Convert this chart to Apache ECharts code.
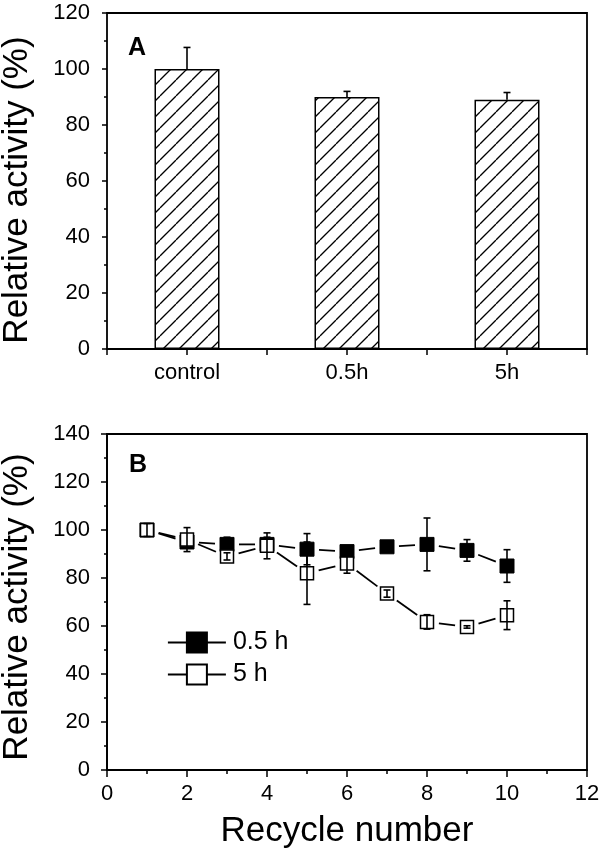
<!DOCTYPE html>
<html>
<head>
<meta charset="utf-8">
<script src="https://cdn.jsdelivr.net/npm/echarts@6/dist/echarts.min.js"></script>
<style>
html,body{margin:0;padding:0;background:#fff;}
#chart{width:600px;height:854px;}
</style>
</head>
<body>
<div id="chart"></div>
<script>
// Panel A data
const categories = ['control', '0.5h', '5h'];
const activityA = [100, 90, 89];
const errorA = [7.7, 2.0, 2.6];

// Panel B data
const recycle = [1, 2, 3, 4, 5, 6, 7, 8, 9, 10];
const act05 = [100, 95, 94, 94, 92, 91, 93, 94, 91.5, 85];
const err05 = [1.5, 2, 3, 3, 6.5, 2, 1.5, 11, 4.5, 6.8];
const act5 = [100, 96, 89, 93.4, 82, 86, 73.5, 61.7, 59.6, 64.5];
const err5 = [2.7, 5, 1.5, 5.4, 13, 4, 1.5, 3, 0.5, 6];
const seriesNames = ['0.5 h', '5 h'];

const FONT = '"Liberation Sans", Arial, sans-serif';

// hatch pattern
function hatch() {
  const s = 16;
  const c = document.createElement('canvas');
  c.width = s; c.height = s;
  const g = c.getContext('2d');
  g.fillStyle = '#fff';
  g.fillRect(0, 0, s, s);
  g.strokeStyle = '#000';
  g.lineWidth = 1.3;
  for (const k of [-s, 0, s]) {
    g.beginPath();
    g.moveTo(k, s);
    g.lineTo(k + s, 0);
    g.stroke();
  }
  return c;
}

function errRender(upOnly) {
  return function (params, api) {
    const x = api.value(0), y = api.value(1), e = api.value(2);
    const hi = api.coord([x, y + e]);
    const lo = api.coord([x, upOnly ? y : y - e]);
    const w = 3.5;
    const st = { stroke: '#000', lineWidth: 1.6 };
    const children = [
      { type: 'line', shape: { x1: hi[0], y1: hi[1], x2: lo[0], y2: lo[1] }, style: st },
      { type: 'line', shape: { x1: hi[0] - w, y1: hi[1], x2: hi[0] + w, y2: hi[1] }, style: st }
    ];
    if (!upOnly) {
      children.push({ type: 'line', shape: { x1: lo[0] - w, y1: lo[1], x2: lo[0] + w, y2: lo[1] }, style: st });
    }
    return { type: 'group', children: children };
  };
}

// connecting segments with a gap around the symbols
function segRender(params, api) {
  const x1 = api.value(0), y1 = api.value(1), x2 = api.value(2), y2 = api.value(3);
  if (x2 == null || isNaN(x2)) return { type: 'group', children: [] };
  const p1 = api.coord([x1, y1]), p2 = api.coord([x2, y2]);
  const dx = p2[0] - p1[0], dy = p2[1] - p1[1];
  const len = Math.sqrt(dx * dx + dy * dy);
  const gap = 12;
  if (len <= 2 * gap) return { type: 'group', children: [] };
  const ux = dx / len, uy = dy / len;
  return {
    type: 'line',
    shape: { x1: p1[0] + ux * gap, y1: p1[1] + uy * gap, x2: p2[0] - ux * gap, y2: p2[1] - uy * gap },
    style: { stroke: '#000', lineWidth: 1.8 }
  };
}

function segData(xs, ys) {
  return xs.map((x, i) => [x, ys[i], i + 1 < xs.length ? xs[i + 1] : NaN, i + 1 < ys.length ? ys[i + 1] : NaN]);
}

const axisLineStyle = { lineStyle: { color: '#000', width: 1.8 } };
const labelStyle = { color: '#000', fontSize: 22, fontFamily: FONT };

const chart = echarts.init(document.getElementById('chart'), null, { renderer: 'canvas' });
const option = {
  backgroundColor: '#fff',
  animation: false,
  title: [
    { text: 'A', left: 128, top: 36, padding: 0, textStyle: { fontSize: 25, fontWeight: 'bold', fontFamily: FONT, color: '#000' } },
    { text: 'B', left: 129, top: 453, padding: 0, textStyle: { fontSize: 25, fontWeight: 'bold', fontFamily: FONT, color: '#000' } }
  ],
  grid: [
    { left: 107, right: 13, top: 13, height: 336, show: true, borderColor: '#000', borderWidth: 1.8, backgroundColor: 'transparent', containLabel: false, outerBoundsMode: 'none' },
    { left: 107, right: 13, top: 434, height: 336, show: true, borderColor: '#000', borderWidth: 1.8, backgroundColor: 'transparent', containLabel: false, outerBoundsMode: 'none' }
  ],
  legend: {
    orient: 'vertical',
    left: 167,
    top: 630,
    padding: 0,
    itemWidth: 58,
    itemHeight: 25,
    itemGap: 7,
    data: seriesNames,
    lineStyle: { color: '#000', width: 1.8, opacity: 1 },
    textStyle: { color: '#000', fontSize: 25, fontFamily: FONT, padding: [0, 0, 0, 2] }
  },
  xAxis: [
    {
      type: 'category', gridIndex: 0, data: categories, boundaryGap: true,
      axisLine: axisLineStyle,
      axisTick: { show: true, inside: false, length: 6, lineStyle: { color: '#000', width: 1.5 } },
      axisLabel: Object.assign({ margin: 13 }, labelStyle),
      splitLine: { show: false }
    },
    {
      type: 'category', gridIndex: 0, data: categories, position: 'bottom',
      axisLine: { show: false },
      axisTick: { show: true, alignWithLabel: true, length: 6, lineStyle: { color: '#000', width: 1.5 } },
      axisLabel: { show: false },
      splitLine: { show: false }
    },
    {
      type: 'value', gridIndex: 1, min: 0, max: 12, interval: 2,
      name: 'Recycle number', nameLocation: 'middle', nameGap: 44,
      nameTextStyle: { color: '#000', fontSize: 35, fontFamily: FONT },
      axisLine: axisLineStyle,
      axisTick: { show: true, length: 7, lineStyle: { color: '#000', width: 1.5 } },
      minorTick: { show: true, splitNumber: 2, length: 4, lineStyle: { color: '#000', width: 1.5 } },
      axisLabel: Object.assign({ margin: 13 }, labelStyle),
      splitLine: { show: false }
    }
  ],
  yAxis: [
    {
      type: 'value', gridIndex: 0, min: 0, max: 120, interval: 20,
      name: 'Relative activity (%)', nameLocation: 'middle', nameGap: 72,
      nameTextStyle: { color: '#000', fontSize: 35, fontFamily: FONT, padding: [0, 18, 0, 0] },
      axisLine: axisLineStyle,
      axisTick: { show: true, length: 5, lineStyle: { color: '#000', width: 1.5 } },
      minorTick: { show: true, splitNumber: 2, length: 3, lineStyle: { color: '#000', width: 1.5 } },
      axisLabel: Object.assign({ margin: 17 }, labelStyle),
      splitLine: { show: false }
    },
    {
      type: 'value', gridIndex: 1, min: 0, max: 140, interval: 20,
      name: 'Relative activity (%)', nameLocation: 'middle', nameGap: 72,
      nameTextStyle: { color: '#000', fontSize: 35, fontFamily: FONT, padding: [0, 10, 0, 0] },
      axisLine: axisLineStyle,
      axisTick: { show: true, length: 6, lineStyle: { color: '#000', width: 1.5 } },
      minorTick: { show: true, splitNumber: 2, length: 3, lineStyle: { color: '#000', width: 1.5 } },
      axisLabel: Object.assign({ margin: 17 }, labelStyle),
      splitLine: { show: false }
    }
  ],
  series: [
    {
      type: 'bar', xAxisIndex: 0, yAxisIndex: 0,
      data: activityA,
      barWidth: 65,
      itemStyle: { color: { image: hatch(), repeat: 'repeat' }, borderColor: '#000', borderWidth: 1.5 },
      z: 2
    },
    {
      type: 'custom', xAxisIndex: 0, yAxisIndex: 0,
      renderItem: errRender(true),
      data: categories.map((c, i) => [c, activityA[i], errorA[i]]),
      z: 3
    },
    {
      type: 'custom', xAxisIndex: 2, yAxisIndex: 1,
      renderItem: segRender,
      data: segData(recycle, act05),
      z: 1
    },
    {
      type: 'custom', xAxisIndex: 2, yAxisIndex: 1,
      renderItem: segRender,
      data: segData(recycle, act5),
      z: 1
    },
    {
      name: seriesNames[0], type: 'line', xAxisIndex: 2, yAxisIndex: 1,
      data: recycle.map((x, i) => [x, act05[i]]),
      symbol: 'rect', symbolSize: 14,
      itemStyle: { color: '#000', borderColor: '#000', borderWidth: 1 },
      lineStyle: { color: '#000', width: 1.8, opacity: 0 },
      z: 2
    },
    {
      type: 'custom', xAxisIndex: 2, yAxisIndex: 1,
      renderItem: errRender(false),
      data: recycle.map((x, i) => [x, act05[i], err05[i]]),
      z: 2
    },
    {
      name: seriesNames[1], type: 'line', xAxisIndex: 2, yAxisIndex: 1,
      data: recycle.map((x, i) => [x, act5[i]]),
      symbol: 'rect', symbolSize: 13,
      itemStyle: { color: '#fff', borderColor: '#000', borderWidth: 1.5 },
      lineStyle: { color: '#000', width: 1.8, opacity: 0 },
      z: 3
    },
    {
      type: 'custom', xAxisIndex: 2, yAxisIndex: 1,
      renderItem: errRender(false),
      data: recycle.map((x, i) => [x, act5[i], err5[i]]),
      z: 4
    }
  ]
};
chart.setOption(option);
</script>
</body>
</html>
